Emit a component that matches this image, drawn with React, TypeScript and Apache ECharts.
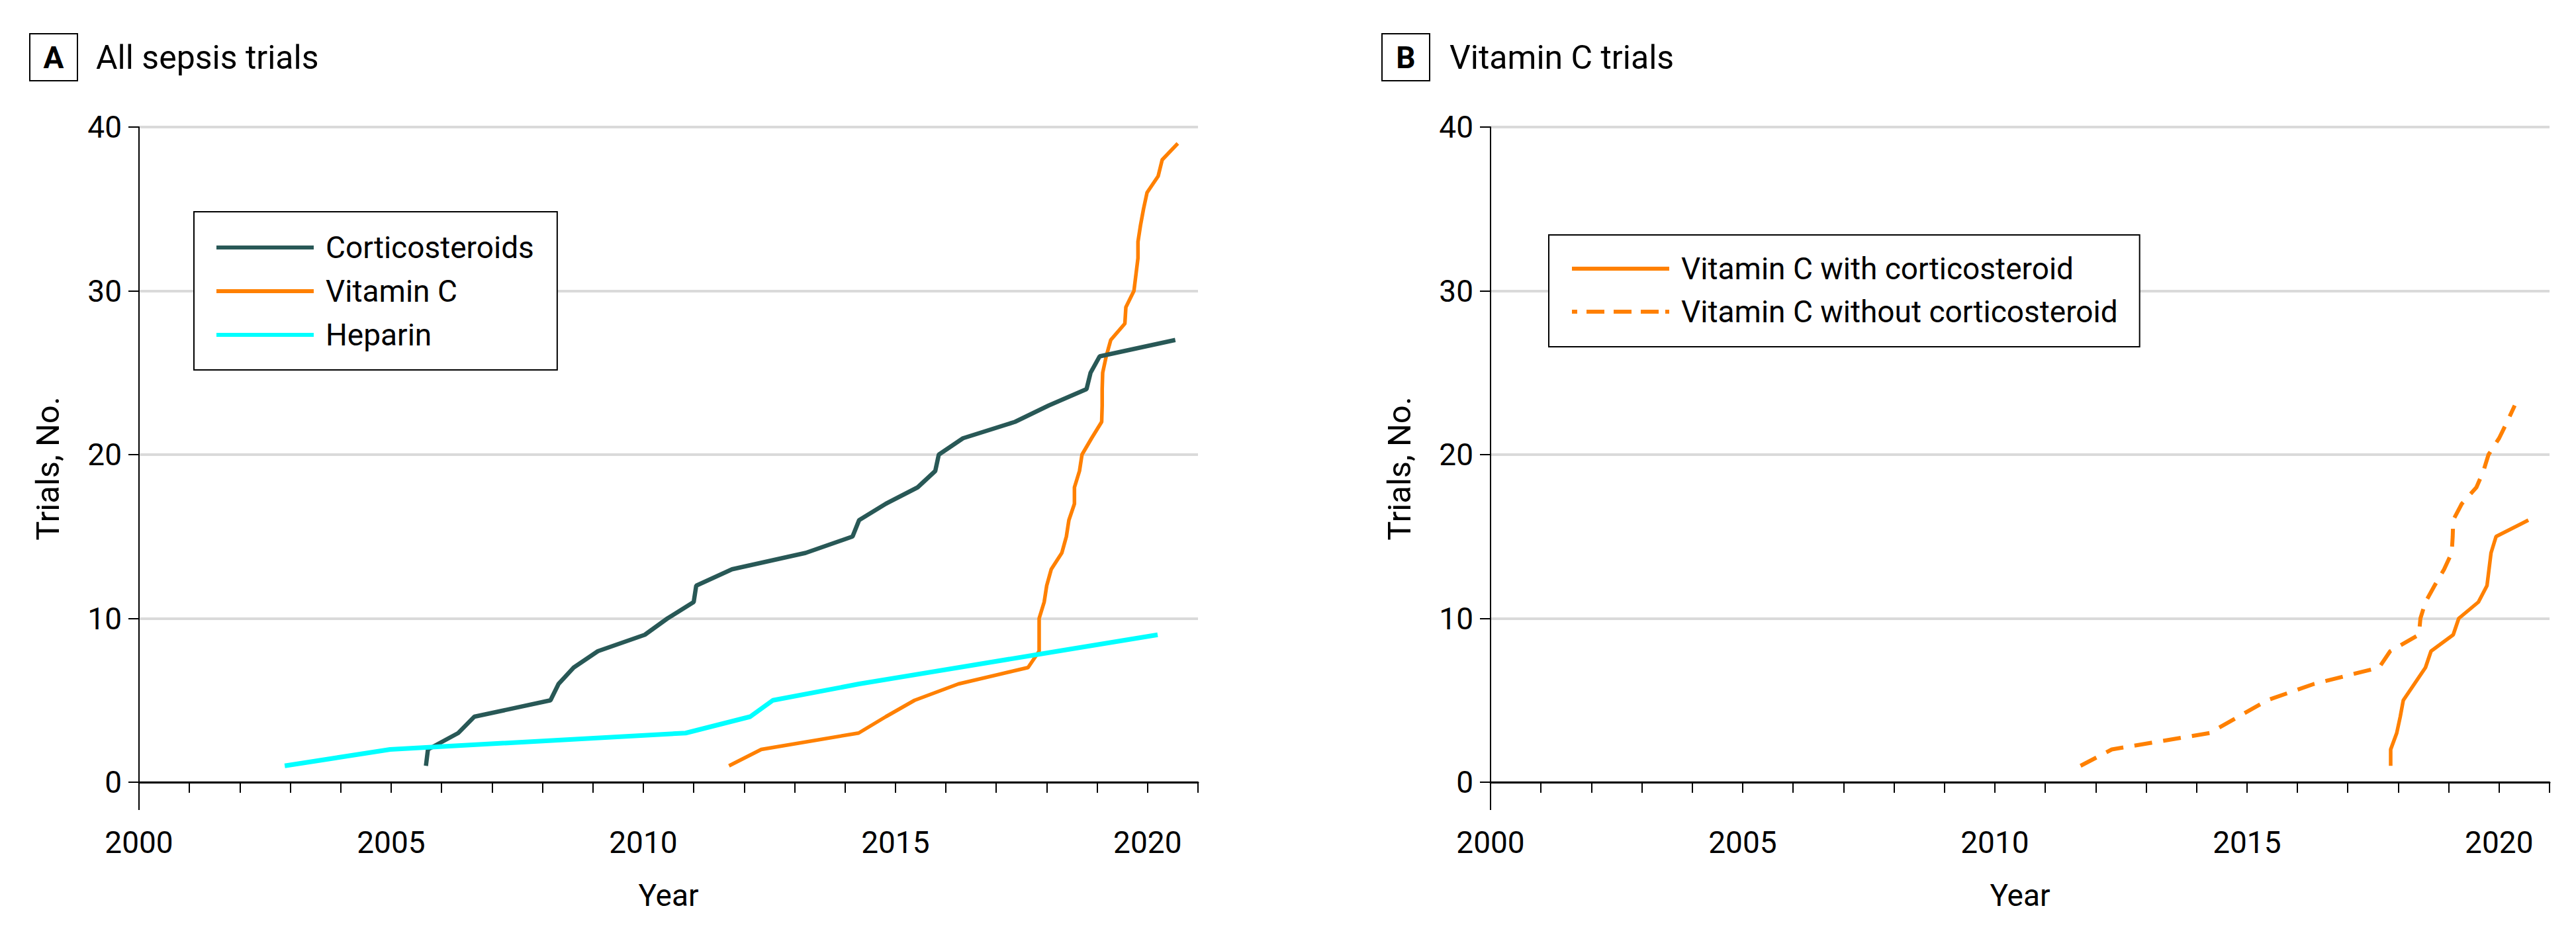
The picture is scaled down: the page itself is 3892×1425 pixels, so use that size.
import React, { useEffect, useRef } from "react";
import * as echarts from "echarts";

// ---------- data ----------
const corticoYears = [2005.69, 2005.73, 2006.33, 2006.65, 2008.16, 2008.32, 2008.62, 2009.1, 2010.03, 2010.48, 2011.0, 2011.05, 2011.76, 2013.22, 2014.15, 2014.28, 2014.81, 2015.44, 2015.79, 2015.86, 2016.34, 2017.37, 2018.04, 2018.79, 2018.87, 2019.05, 2020.55];
const corticoCounts = [1, 2, 3, 4, 5, 6, 7, 8, 9, 10, 11, 12, 13, 14, 15, 16, 17, 18, 19, 20, 21, 22, 23, 24, 25, 26, 27];

const vitcYears = [2011.7, 2012.34, 2014.27, 2014.81, 2015.38, 2016.25, 2017.63, 2017.85, 2017.85, 2017.85, 2017.95, 2018.0, 2018.09, 2018.3, 2018.39, 2018.44, 2018.55, 2018.55, 2018.65, 2018.7, 2018.89, 2019.09, 2019.1, 2019.1, 2019.11, 2019.18, 2019.27, 2019.55, 2019.57, 2019.73, 2019.77, 2019.81, 2019.81, 2019.86, 2019.92, 2019.99, 2020.21, 2020.29, 2020.6];
const vitcCounts = [1, 2, 3, 4, 5, 6, 7, 8, 9, 10, 11, 12, 13, 14, 15, 16, 17, 18, 19, 20, 21, 22, 23, 24, 25, 26, 27, 28, 29, 30, 31, 32, 33, 34, 35, 36, 37, 38, 39];

const heparinYears = [2002.89, 2004.98, 2010.84, 2012.12, 2012.57, 2014.28, 2016.25, 2018.22, 2020.2];
const heparinCounts = [1, 2, 3, 4, 5, 6, 7, 8, 9];

const withSteroidYears = [2017.85, 2017.85, 2017.97, 2018.04, 2018.1, 2018.32, 2018.54, 2018.65, 2019.09, 2019.2, 2019.59, 2019.76, 2019.8, 2019.84, 2019.94, 2020.58];
const withSteroidCounts = [1, 2, 3, 4, 5, 6, 7, 8, 9, 10, 11, 12, 13, 14, 15, 16];

const withoutSteroidYears = [2011.7, 2012.32, 2014.26, 2014.83, 2015.4, 2016.33, 2017.62, 2017.84, 2018.41, 2018.44, 2018.54, 2018.72, 2018.91, 2019.06, 2019.08, 2019.09, 2019.26, 2019.55, 2019.69, 2019.79, 2020.0, 2020.16, 2020.31];
const withoutSteroidCounts = [1, 2, 3, 4, 5, 6, 7, 8, 9, 10, 11, 12, 13, 14, 15, 16, 17, 18, 19, 20, 21, 22, 23];

const yearMin = 2000;
const yearMax = 2021;
const yearLabelStep = 5;
const trialsMin = 0;
const trialsMax = 40;
const trialsStep = 10;

const panelATitle = "All sepsis trials";
const panelBTitle = "Vitamin C trials";
const seriesNamesA = ["Corticosteroids", "Vitamin C", "Heparin"];
const seriesNamesB = ["Vitamin C with corticosteroid", "Vitamin C without corticosteroid"];

// ---------- styles ----------
const FONT = "Roboto";
const TEAL = "#285856";
const ORANGE = "#ff8000";
const CYAN = "#00ffff";
const GRID_GRAY = "#dadada";

const SOLID_ICON = "path://M0,0h147v6h-147z";
const DASH_ICON = "path://M0,0h8v6h-8z M22,0h27v6h-27z M63,0h27v6h-27z M104,0h27v6h-27z M141,0h6v6h-6z";

const zip = (xs: number[], ys: number[]) => xs.map((x, i) => [x, ys[i]]);

function makeXAxis(gridIndex: number) {
  return {
    gridIndex,
    type: "value",
    min: yearMin,
    max: yearMax,
    interval: 1,
    offset: 42,
    axisLine: { show: true, lineStyle: { color: "#000", width: 3 } },
    axisTick: { show: true, length: 16, lineStyle: { color: "#000", width: 2 } },
    axisLabel: {
      fontSize: 46,
      fontFamily: FONT,
      color: "#000",
      margin: 26,
      formatter: (v: number) => (Math.round(v) % yearLabelStep === 0 ? String(Math.round(v)) : ""),
    },
    splitLine: { show: false },
    name: "Year",
    nameLocation: "middle",
    nameGap: 106,
    nameTextStyle: { fontSize: 46, fontFamily: FONT, color: "#000" },
  };
}

function makeYAxis(gridIndex: number) {
  return {
    gridIndex,
    type: "value",
    min: trialsMin,
    max: trialsMax,
    interval: trialsStep,
    axisLine: { show: true, lineStyle: { color: "#000", width: 2 } },
    axisTick: { show: true, length: 16, lineStyle: { color: "#000", width: 2 } },
    axisLabel: { fontSize: 46, fontFamily: FONT, color: "#000", margin: 26 },
    splitLine: { show: true, lineStyle: { color: GRID_GRAY, width: 4 } },
  };
}

function makeLegend(items: any[], left: number, top: number, padding: number[], gap: number) {
  return {
    data: items,
    orient: "vertical",
    left,
    top,
    padding,
    itemGap: gap,
    itemWidth: 147,
    itemHeight: 6,
    selectedMode: false,
    borderColor: "#000",
    borderWidth: 2,
    backgroundColor: "#fff",
    textStyle: { fontSize: 46, fontFamily: FONT, color: "#000", lineHeight: 50, padding: [0, 0, 0, 13] },
  };
}

function panelHeader(boxX: number, letter: string, title: string, titleX: number) {
  return [
    { type: "rect", shape: { x: boxX, y: 51, width: 72, height: 71 }, style: { fill: "#fff", stroke: "#000", lineWidth: 2 } },
    {
      type: "text",
      x: boxX + 36,
      y: 87,
      style: { text: letter, fontSize: 46, fontWeight: "bold", fontFamily: FONT, fill: "#000", align: "center", verticalAlign: "middle" },
    },
    {
      type: "text",
      x: titleX,
      y: 87,
      style: { text: title, fontSize: 50, fontFamily: FONT, fill: "#000", align: "left", verticalAlign: "middle" },
    },
  ];
}

function yName(x: number) {
  return {
    type: "text",
    x,
    y: 708,
    rotation: Math.PI / 2,
    style: { text: "Trials, No.", fontSize: 49, fontFamily: FONT, fill: "#000", align: "center", verticalAlign: "middle" },
  };
}

function yAxisExtension(x: number) {
  return { type: "line", shape: { x1: x, y1: 1182, x2: x, y2: 1224 }, style: { stroke: "#000", lineWidth: 2 } };
}

export default function App() {
  const ref = useRef<HTMLDivElement>(null);

  useEffect(() => {
    document.body.style.margin = "0";
    if (!ref.current) return;
    const chart = echarts.init(ref.current, null, { renderer: "svg" });

    const option: any = {
      animation: false,
      backgroundColor: "#fff",
      textStyle: { fontFamily: FONT },
      grid: [
        { left: 210, top: 192, width: 1600, height: 990 },
        { left: 2252, top: 192, width: 1600, height: 990 },
      ],
      xAxis: [makeXAxis(0), makeXAxis(1)],
      yAxis: [makeYAxis(0), makeYAxis(1)],
      legend: [
        makeLegend(
          seriesNamesA.map((n) => ({ name: n, icon: SOLID_ICON })),
          293, 320, [29, 35, 28, 34], 16
        ),
        makeLegend(
          [
            { name: seriesNamesB[0], icon: SOLID_ICON },
            { name: seriesNamesB[1], icon: DASH_ICON },
          ],
          2340, 355, [26, 33, 28, 35], 15
        ),
      ],
      series: [
        {
          name: seriesNamesA[0],
          type: "line",
          xAxisIndex: 0,
          yAxisIndex: 0,
          data: zip(corticoYears, corticoCounts),
          symbol: "none",
          z: 3,
          lineStyle: { color: TEAL, width: 6.5 },
          itemStyle: { color: TEAL },
        },
        {
          name: seriesNamesA[1],
          type: "line",
          xAxisIndex: 0,
          yAxisIndex: 0,
          data: zip(vitcYears, vitcCounts),
          symbol: "none",
          z: 2,
          lineStyle: { color: ORANGE, width: 5.5 },
          itemStyle: { color: ORANGE },
        },
        {
          name: seriesNamesA[2],
          type: "line",
          xAxisIndex: 0,
          yAxisIndex: 0,
          data: zip(heparinYears, heparinCounts),
          symbol: "none",
          z: 4,
          lineStyle: { color: CYAN, width: 7 },
          itemStyle: { color: CYAN },
        },
        {
          name: seriesNamesB[0],
          type: "line",
          xAxisIndex: 1,
          yAxisIndex: 1,
          data: zip(withSteroidYears, withSteroidCounts),
          symbol: "none",
          z: 3,
          lineStyle: { color: ORANGE, width: 5.5 },
          itemStyle: { color: ORANGE },
        },
        {
          name: seriesNamesB[1],
          type: "line",
          xAxisIndex: 1,
          yAxisIndex: 1,
          data: zip(withoutSteroidYears, withoutSteroidCounts),
          symbol: "none",
          z: 3,
          lineStyle: { color: ORANGE, width: 6, type: [27, 17] },
          itemStyle: { color: ORANGE },
        },
      ],
      graphic: [
        ...panelHeader(45, "A", panelATitle, 145),
        ...panelHeader(2088, "B", panelBTitle, 2190),
        yName(72),
        yName(2114),
        yAxisExtension(210),
        yAxisExtension(2252),
      ],
    };

    chart.setOption(option);
    return () => chart.dispose();
  }, []);

  return <div ref={ref} style={{ width: 3892, height: 1425 }} />;
}
